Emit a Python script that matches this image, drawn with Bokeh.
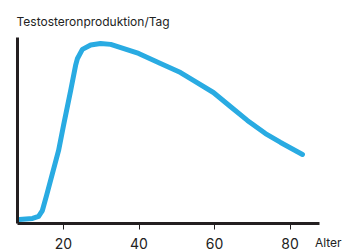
from bokeh.plotting import figure
from bokeh.models import Range1d, FixedTicker, Label
from bokeh.embed import file_html
from bokeh.resources import INLINE

# Data (age in years, relative testosterone production)
age = [8.3, 11.8, 13.4, 14.4, 15.5, 18.7, 20.0, 21.9, 23.2, 23.7, 25.0, 27.2, 29.8,
       32.5, 39.9, 45.7, 51.0, 54.4, 59.7, 64.2, 68.7, 73.5, 77.5, 83.3]
production = [2.2, 2.7, 3.8, 7.0, 15.1, 39.5, 53.0, 71.9, 85.4, 89.2, 94.1, 96.5, 97.3,
              96.8, 91.9, 86.5, 81.6, 77.3, 70.8, 63.2, 55.7, 48.6, 43.8, 37.3]
x_ticks = [20, 40, 60, 80]
title_text = "Testosteronproduktion/Tag"
x_label = "Alter"

FONT = "Inter"
AXIS = "#231f20"
TEXT = "#222222"

p = figure(width=347, height=251, output_backend="svg", toolbar_location=None,
           x_range=Range1d(3.31, 95.23), y_range=Range1d(-15.14, 104.3),
           min_border_left=0, min_border_right=0, min_border_top=30, min_border_bottom=0,
           title=title_text)

p.title.text_font = FONT
p.title.text_font_size = "12px"
p.title.text_font_style = "normal"
p.title.text_color = TEXT
p.title.offset = 16
p.title.standoff = 3

p.grid.visible = False
p.outline_line_color = None
p.background_fill_color = "white"
p.border_fill_color = "white"

p.xaxis.fixed_location = 0
p.xaxis.bounds = (7.8, 87.8)
p.xaxis.ticker = FixedTicker(ticks=x_ticks)
p.xaxis.axis_line_width = 3
p.xaxis.axis_line_color = AXIS
p.xaxis.major_tick_line_color = AXIS
p.xaxis.major_tick_line_width = 1
p.xaxis.major_tick_out = 6
p.xaxis.major_tick_in = 0
p.xaxis.minor_tick_line_color = None
p.xaxis.major_label_text_font = FONT
p.xaxis.major_label_text_font_size = "14px"
p.xaxis.major_label_text_color = TEXT
p.xaxis.major_label_standoff = 9

p.yaxis.fixed_location = 7.8
p.yaxis.bounds = (0, 100.5)
p.yaxis.ticker = FixedTicker(ticks=[])
p.yaxis.axis_line_width = 3
p.yaxis.axis_line_color = AXIS
p.yaxis.major_tick_line_color = None
p.yaxis.minor_tick_line_color = None
p.yaxis.major_label_standoff = 0

p.line(age, production, line_color="#29abe2", line_width=5,
       line_cap="round", line_join="round")

p.add_layout(Label(x=86.6, y=-10.5, text=x_label, text_font=FONT,
                   text_font_size="12px", text_color=TEXT, text_baseline="alphabetic"))

open("out.html", "w").write(file_html(p, INLINE))
